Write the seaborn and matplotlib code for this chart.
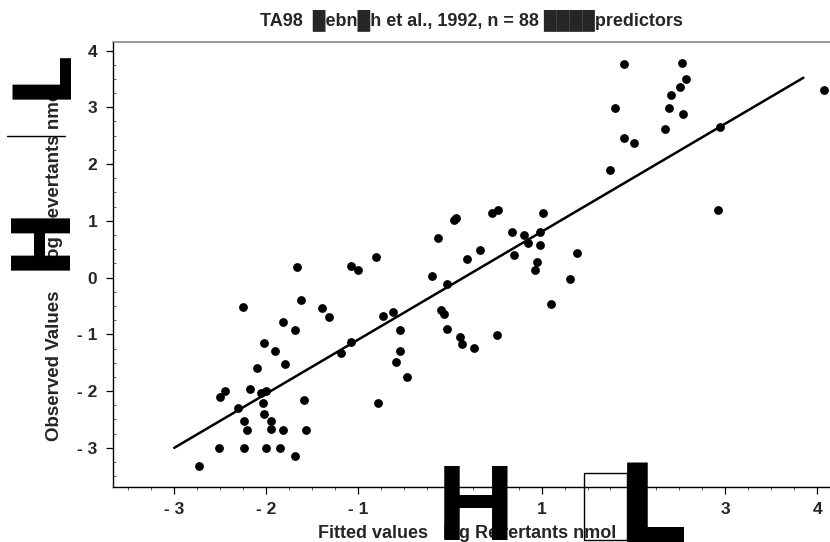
import matplotlib
matplotlib.use("Agg")
import matplotlib.pyplot as plt
import seaborn as sns
import pandas as pd
from matplotlib.patches import Rectangle
from matplotlib.lines import Line2D
from matplotlib.ticker import FixedLocator, FixedFormatter, MultipleLocator

# ---------------- data ----------------
fitted = [-1.66, -2.25, -1.62, -1.08, -1.00, -0.80, -1.39, -1.32, -1.82, -1.69,
          -2.02, -1.90, -2.10, -1.79, -1.08, -1.18, -0.73, -0.62, -0.54, -0.54,
          -0.59,
          -2.45, -2.50, -2.18, -2.05, -2.00, -2.31, -2.03, -2.02, -2.24, -2.21,
          -1.95, -1.95, -1.82, -1.59, -1.56, -0.78, -2.51, -2.24, -2.00, -1.85,
          -1.69, -2.73,
          0.05, 0.07, 0.19, -0.13, -0.19, -0.10, -0.06, -0.03, -0.47, -0.03,
          0.11, 0.13, 0.26, 0.51, 0.33, 0.46, 0.52, 0.68, 0.81, 0.85, 0.70,
          0.98, 1.02, 0.98, 0.95, 0.93, 1.10, 1.31, 1.39, 1.75, 1.80, 1.90,
          1.90, 2.01, 2.39, 2.34, 2.41, 2.51, 2.53, 2.57, 2.54, 2.94, 2.92, 4.08]
observed = [0.19, -0.51, -0.40, 0.21, 0.13, 0.37, -0.54, -0.69, -0.79, -0.93,
            -1.15, -1.30, -1.60, -1.52, -1.14, -1.33, -0.67, -0.61, -0.93, -1.30,
            -1.49,
            -1.99, -2.10, -1.97, -2.04, -1.99, -2.30, -2.21, -2.40, -2.53, -2.69,
            -2.53, -2.67, -2.69, -2.16, -2.69, -2.21, -3.01, -3.01, -3.01, -3.01,
            -3.14, -3.32,
            1.02, 1.05, 0.33, 0.70, 0.03, -0.57, -0.64, -0.11, -1.75, -0.90,
            -1.04, -1.17, -1.24, -1.01, 0.49, 1.14, 1.19, 0.81, 0.75, 0.61, 0.40,
            0.81, 1.14, 0.58, 0.28, 0.14, -0.46, -0.02, 0.44, 1.90, 2.99, 3.76,
            2.46, 2.37, 2.99, 2.62, 3.22, 3.36, 3.78, 3.50, 2.88, 2.65, 1.19, 3.31]

line_x = [-3.0, 3.85]
line_y = [-3.0, 3.52]

x_ticks = [-3, -2, -1, 0, 1, 2, 3, 4]
x_tick_labels = ["- 3", "- 2", "- 1", "0", "1", "2", "3", "4"]
y_ticks = [-3, -2, -1, 0, 1, 2, 3, 4]
y_tick_labels = ["- 3", "- 2", "- 1", "0", "1", "2", "3", "4"]

title = "TA98  \u2588ebn\u2588h et al., 1992, n = 88 \u2588\u2588\u2588\u2588predictors"
x_label = "Fitted values   log Revertants nmol"
y_label = "Observed Values     log Revertants nmol"

df = pd.DataFrame({"fitted": fitted, "observed": observed})
line_df = pd.DataFrame({"x": line_x, "y": line_y})

# ---------------- style ----------------
sns.set_theme(style="white")
plt.rcParams["font.family"] = ["Liberation Sans", "DejaVu Sans"]

W, H = 830, 542
fig = plt.figure(figsize=(W / 100, H / 100), dpi=100)
ax = fig.add_axes([112.7 / W, 1 - 487 / H, 1 - 112.7 / W, (487 - 42) / H])

sns.scatterplot(data=df, x="fitted", y="observed", ax=ax, color="black",
                s=40, edgecolor="black", linewidth=0, zorder=3, legend=False)
sns.lineplot(data=line_df, x="x", y="y", ax=ax, color="black", linewidth=1.8,
             zorder=2, legend=False)

ax.set_xlim(-3.67, 4.14)
ax.set_ylim(-3.69, 4.15)

ax.xaxis.set_major_locator(FixedLocator(x_ticks))
ax.xaxis.set_major_formatter(FixedFormatter(x_tick_labels))
ax.yaxis.set_major_locator(FixedLocator(y_ticks))
ax.yaxis.set_major_formatter(FixedFormatter(y_tick_labels))
ax.xaxis.set_minor_locator(MultipleLocator(0.25))
ax.yaxis.set_minor_locator(MultipleLocator(0.25))

ax.tick_params(axis="both", which="major", direction="out", length=5, width=0.9,
               color="black", labelsize=12.5, pad=6)
ax.tick_params(axis="x", which="minor", direction="out", length=2, width=0.6,
               color="#444444", bottom=True)
ax.tick_params(axis="y", which="minor", direction="in", length=2, width=0.6,
               color="#444444", left=True)
ax.tick_params(axis="both", which="both", bottom=True, left=True)
for lab in ax.get_xticklabels() + ax.get_yticklabels():
    lab.set_fontweight("bold")

for s in ["left", "bottom"]:
    ax.spines[s].set_color("black")
    ax.spines[s].set_linewidth(1.0)
ax.spines["top"].set_color("#8a8a8a")
ax.spines["top"].set_linewidth(1.2)
ax.spines["right"].set_visible(False)
ax.grid(False)

ax.set_xlabel(x_label, fontsize=13, fontweight="bold", va="center")
ax.xaxis.set_label_coords((467.5 - 112.7) / 717.3, (487 - 533) / 445)
ax.set_ylabel(y_label, fontsize=13.5, fontweight="bold", va="center")
ax.yaxis.set_label_coords((55 - 112.7) / 717.3, (487 - 263) / 445)
ax.set_title(title, fontsize=13, fontweight="bold", y=(487 - 20) / 445,
             va="center", pad=0)

# ---------------- large glyph artifacts ----------------
def fx(px):
    return px / W

def fy(py):
    return 1 - py / H

# x-label area
fig.text(fx(476), fy(540), "H", fontsize=77.5, fontweight="bold",
         family=["Liberation Sans"], ha="center", va="baseline", color="black",
         zorder=10)
fig.text(fx(617), fy(543), "L", fontsize=79, fontweight="bold",
         family=["DejaVu Sans"], ha="left", va="baseline", color="black", zorder=10)
fig.patches.append(Rectangle((fx(584), fy(540)), fx(627) - fx(584), fy(473) - fy(540),
                             transform=fig.transFigure, fill=False, edgecolor="black",
                             linewidth=1.0, zorder=9))

# y-label area (rotated)
fig.text(fx(64), fy(236), "H", fontsize=57.6, fontweight="bold",
         family=["DejaVu Sans"], rotation=90, rotation_mode="anchor",
         ha="center", va="baseline", color="black", zorder=10)
fig.text(fx(65), fy(99), "L", fontsize=57.6, fontweight="bold",
         family=["DejaVu Sans"], rotation=90, rotation_mode="anchor",
         ha="left", va="baseline", color="black", zorder=10)
fig.lines.append(Line2D([fx(7), fx(65)], [fy(136), fy(136)], transform=fig.transFigure,
                        color="black", linewidth=1.0))

fig.savefig("out.png", dpi=100)
